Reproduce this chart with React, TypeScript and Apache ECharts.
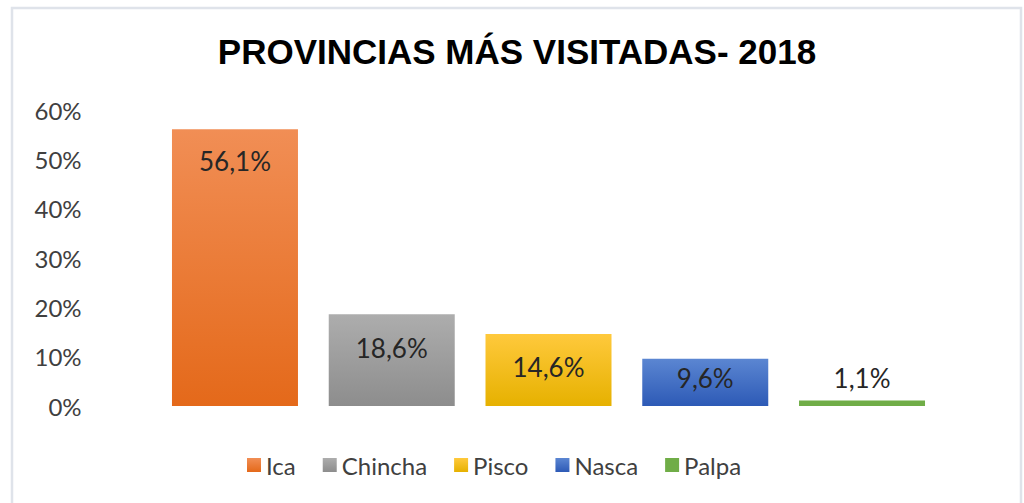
import React, { useEffect, useRef } from "react";
import * as echarts from "echarts";

const chartTitle = "PROVINCIAS MÁS VISITADAS- 2018";
const categories = ["Ica", "Chincha", "Pisco", "Nasca", "Palpa"];
const values = [56.1, 18.6, 14.6, 9.6, 1.1];
const yMin = 0;
const yMax = 60;
const yStep = 10;

const gradients = [
  ["#f18e55", "#e4691a"],
  ["#adadad", "#8d8d8d"],
  ["#ffc93c", "#e6b100"],
  ["#5b86d2", "#2d5ab6"],
  ["#70ad47", "#70ad47"],
];
const labelPlacement = [
  { position: "insideTop", distance: 19 },
  { position: "insideTop", distance: 21 },
  { position: "insideTop", distance: 20 },
  { position: "insideTop", distance: 6 },
  { position: "top", distance: 10 },
];

const fmt = (v: number) => v.toFixed(1).replace(".", ",") + "%";

export default function App() {
  const ref = useRef<HTMLDivElement>(null);
  useEffect(() => {
    document.body.style.margin = "0";
    const chart = echarts.init(ref.current!, null, { renderer: "svg" });
    const series = categories.map((name, i) => ({
      name,
      type: "bar",
      stack: "all",
      barWidth: 126,
      data: values.map((v, j) => (j === i ? v : null)),
      itemStyle: {
        color: new echarts.graphic.LinearGradient(0, 0, 0, 1, [
          { offset: 0, color: gradients[i][0] },
          { offset: 1, color: gradients[i][1] },
        ]),
      },
      label: {
        show: true,
        ...labelPlacement[i],
        formatter: (p: any) => fmt(p.value),
        fontFamily: "Lato",
        fontSize: 26,
        color: "#262626",
      },
    }));
    chart.setOption({
      animation: false,
      backgroundColor: "#ffffff",
      grid: { left: 156.6, right: 83.6, top: 110, bottom: 97 },
      xAxis: {
        type: "category",
        data: categories,
        axisLine: { show: false },
        axisTick: { show: false },
        axisLabel: { show: false },
      },
      yAxis: {
        type: "value",
        min: yMin,
        max: yMax,
        interval: yStep,
        splitLine: { show: false },
        axisLine: { show: false },
        axisTick: { show: false },
        axisLabel: {
          formatter: "{value}%",
          margin: 75,
          fontFamily: "Lato",
          fontSize: 24,
          color: "#404040",
        },
      },
      legend: {
        data: categories,
        left: 247,
        top: 453,
        padding: 0,
        icon: "rect",
        itemWidth: 14,
        itemHeight: 14,
        itemGap: 27,
        textStyle: { fontFamily: "Lato", fontSize: 24, color: "#404040" },
      },
      graphic: [
        {
          type: "rect",
          shape: { x: 12, y: 8, width: 1009, height: 530 },
          style: { fill: "none", stroke: "#dfe3ea", lineWidth: 2.5 },
          silent: true,
        },
        {
          type: "text",
          x: 517,
          y: 51,
          style: {
            text: chartTitle,
            fontFamily: "Liberation Sans",
            fontWeight: "bold",
            fontSize: 35,
            fill: "#000000",
            textAlign: "center",
            textVerticalAlign: "middle",
          },
        },
      ],
      series,
    });
    return () => chart.dispose();
  }, []);
  return <div ref={ref} style={{ position: "absolute", left: 0, top: 0, width: 1024, height: 503 }} />;
}
